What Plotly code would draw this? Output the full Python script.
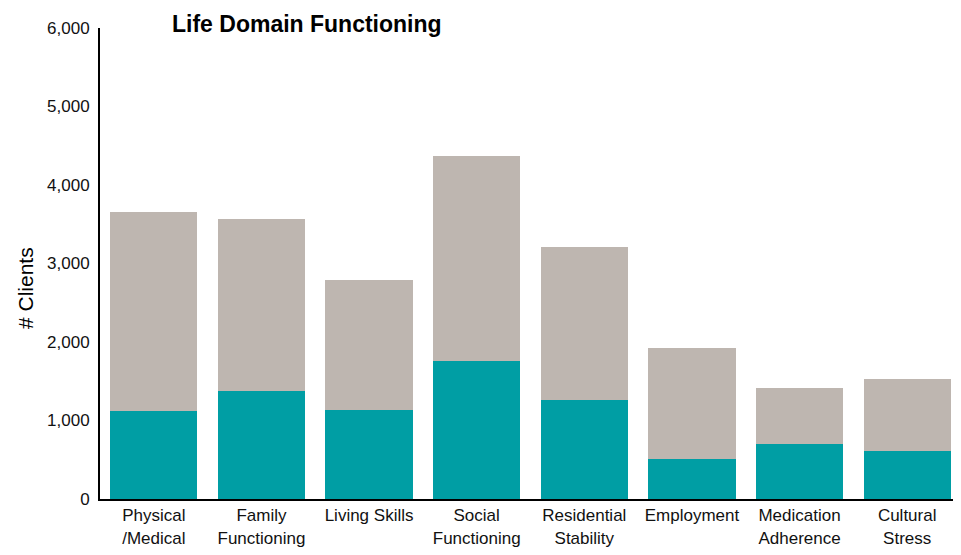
import plotly.graph_objects as go

categories = ["Physical<br>/Medical", "Family<br>Functioning", "Living Skills", "Social<br>Functioning",
              "Residential<br>Stability", "Employment", "Medication<br>Adherence", "Cultural<br>Stress"]
teal_values = [1120, 1376, 1134, 1758, 1261, 510, 700, 611]
total_values = [3656, 3567, 2790, 4369, 3210, 1924, 1414, 1529]
grey_values = [t - b for t, b in zip(total_values, teal_values)]
y_ticks = [0, 1000, 2000, 3000, 4000, 5000, 6000]

FONT = "Liberation Sans, Arial, sans-serif"

fig = go.Figure()
fig.add_trace(go.Bar(x=categories, y=teal_values, marker=dict(color="#009EA4", line=dict(width=0)),
                     showlegend=False))
fig.add_trace(go.Bar(x=categories, y=grey_values, marker=dict(color="#BEB6B0", line=dict(width=0)),
                     showlegend=False))

fig.update_layout(
    barmode="stack",
    bargap=0.19,
    width=953, height=547,
    margin=dict(l=92, r=0, t=20, b=56),
    plot_bgcolor="white", paper_bgcolor="white",
    font=dict(family=FONT, color="#111"),
    title=dict(text="<b>Life Domain Functioning</b>", x=164 / 953, xanchor="left",
               xref="container", y=1 - 16 / 547, yanchor="middle", font=dict(size=23, color="#000")),
    xaxis=dict(showline=True, linecolor="#000", linewidth=2, ticks="", tickfont=dict(size=17, color="#111"),
               showgrid=False, automargin=False),
    yaxis=dict(range=[0, 6000], tickvals=y_ticks, tickformat=",", showline=True, linecolor="#000", linewidth=2,
               ticks="", showgrid=False, zeroline=False, automargin=False, ticklabelstandoff=5,
               tickfont=dict(size=17, color="#111")),
    annotations=[dict(text="# Clients", textangle=-90, xref="paper", yref="paper",
                      x=-75 / 861, y=211 / 471, xanchor="center", yanchor="middle", showarrow=False,
                      font=dict(size=21, color="#000"))],
)

fig.write_html("out.html")
